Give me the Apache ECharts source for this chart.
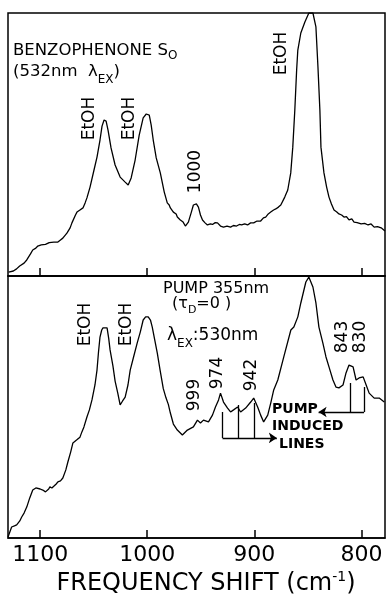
<!DOCTYPE html>
<html lang="en">
<head>
    <meta charset="UTF-8"/>
    <script src="https://cdn.jsdelivr.net/npm/echarts@6/dist/echarts.min.js"></script>
    <title>Benzophenone Raman</title>
    <style>
        html, body { margin: 0; padding: 0; background: #fff; }
        #chart { width: 387px; height: 594px; }
    </style>
</head>
<body>
<div id="chart"></div>
<script type="text/javascript">
    // ground state spectrum (top), shift in cm-1 and relative intensity
    var topShift = [1129.4,1128.4,1125,1122,1119.1,1115,1112.5,1109,1106.9,1104,
        1102.2,1099,1097.5,1095,1093.8,1091.5,1090,1087.2,1083.4,1081,
        1078.8,1075,1072,1070.3,1067,1065.6,1062.8,1060,1058,1056.3,
        1053.4,1049.7,1046.9,1044.1,1042.2,1040.3,1038.4,1036.6,1033.8,1030,
        1025.3,1020.6,1017.8,1015,1011.3,1007.5,1003.8,1000.9,998.1,996.3,
        994.4,991.6,987.8,984.1,981.3,979.5,978.4,975.6,973,971.9,
        969.1,966.5,964.4,961.6,958.8,956.9,954.1,952.2,950.3,948.4,
        946,943.8,941,939.1,936.5,934.4,931.6,928.8,925.5,922.2,
        919.5,916.6,914,911.9,909,906.3,903.5,900.6,897.5,894.1,
        891.5,889.4,887,884.7,882,880,877.5,875.3,871.6,868.8,
        866,864.1,862.2,860.5,859.4,856.6,852.8,849.1,845.3,842.5,
        840.6,838.8,837.8,835,832.5,830.3,828,825.6,823,821,
        818.5,816.3,814,811.6,809,806.9,804,800.3,797,793.8,
        791,788.1,785,781.6,778];
    var topSignal = [1.5,1.1,1.9,2.7,3.8,4.9,6.1,8.4,9.9,10.6,
        11.4,11.8,12.5,12,12.2,12.7,12.4,12.9,12.9,13.7,
        14.4,16.3,18.3,20.2,23.2,24.3,25.1,25.9,27.8,29.7,
        33.8,40.3,45.2,51.7,57,59.3,58.9,55.5,48.7,42.2,
        37.6,35.7,34.6,37.3,44.1,53.6,60.1,61.6,61.2,57.4,
        51.7,44.9,39.2,31.9,27.8,27,25.9,24.3,23.6,22.4,
        21.3,20.5,19,20.5,24.3,27,27.4,26.2,23.2,21.3,
        20.2,19.4,19.8,19.6,20.3,20.2,19,18.6,19,18.6,
        19.2,19,19.6,19.4,19.8,19.4,20.2,20.2,20.9,20.9,
        22.1,22.4,23.6,24.3,25.1,25.5,26.2,27,30,32.7,
        39.2,49,63.1,78.3,85.9,92.4,96.6,100,100,94.7,
        79.5,63.1,49,39.2,33.8,30,27.4,25.1,24.3,23.6,
        23.2,22.4,22.6,21.3,21.7,20.5,20.3,19.8,20,19.4,
        19.8,18.6,18.8,18.3,17.1];

    // pumped spectrum (bottom)
    var bottomShift = [1130,1126.6,1124,1121.9,1119,1117.2,1115,1112.5,1109.7,1106.9,
        1104,1102.2,1100,1097.5,1095,1093.8,1092,1090.9,1089,1087.2,
        1085,1083.4,1081,1078.8,1076,1074.1,1071.5,1069.4,1066,1062.8,
        1061,1059.1,1056.3,1054,1051.6,1048.8,1046.9,1045.5,1044.1,1042.5,
        1041.3,1039.5,1037.5,1036,1034.7,1032,1030,1027.5,1025.3,1023,
        1020.6,1018,1015.9,1013,1009.4,1006.5,1003.8,1001.5,999.1,997,
        995.3,993,990.6,988,985,982.5,980.3,978.4,975.6,971.9,
        967.2,962.5,956.9,953.1,950.3,947.5,942.8,939.1,936.3,933.4,
        931.6,928.8,925,922.2,919.4,915.6,912.8,908.1,903.4,900.6,
        896.9,894.1,891.3,887.5,884.7,881.9,878.1,872.5,865.9,863.1,
        859.4,856.6,851.9,849.1,845.3,842.5,839.7,836,833.1,830.3,
        826.6,823.8,821,817.2,814.4,811.6,807.8,805,802.2,798.4,
        795.6,792.8,788.1,783.4,778.7];
    var bottomSignal = [0.4,4.2,4.6,5,6.5,8,9.5,11.8,15.3,18.3,
        19.1,19.5,18.7,18.3,17.6,17.2,18.7,19.5,19.1,19.5,
        20.6,21.4,21.8,22.9,26,29,32.8,36.3,37.4,38.5,
        40.5,42.4,46.2,48.9,52.7,58.4,64.1,71,76.7,79.4,
        80.2,80.5,80.2,76.3,71.8,65.6,59.9,55.3,50.8,52.3,
        53.8,58.4,64.1,68.7,74.4,78.6,83.2,84.4,84.4,83.2,
        80.5,75.6,70.6,64.1,57,53.5,51,47.7,43.5,41.2,
        39.3,41.2,42.4,45,43.9,45,44.3,46.9,50,52.7,
        55.3,51.9,49.6,48.1,48.9,50,48.1,49.6,51.9,53.4,
        50,46.9,44.3,46.9,51.5,56.5,60.3,69.1,79.4,80.5,
        84.4,89.7,97.7,99.6,95.8,89.7,80.5,74.4,69.1,65.3,
        60.3,57.6,57.3,58.4,63,66,65.3,60.3,61.1,61.5,
        58.4,55.3,53.4,53.4,51.9];

    var tickValues = [800, 900, 1000, 1100];

    // "pump induced lines" brackets in the lower panel
    var leftLineShift = [929.7, 914.7, 899.7];
    var leftLineTop = [48.1, 50.8, 51.5];
    var leftLineBase = 38.2;
    var leftArrowTip = 879;
    var rightLineShift = [810.6, 797.5];
    var rightLineTop = [59.2, 57.6];
    var rightLineBase = 48.1;
    var rightArrowTip = 840;

    function zip(xs, ys) {
        var out = [];
        var n = Math.min(xs.length, ys.length);
        for (var i = 0; i < n; i++) {
            out.push([xs[i], ys[i]]);
        }
        return out;
    }

    var FONT = "'DejaVu Sans', sans-serif";

    var stems = [];
    leftLineShift.forEach(function (s, i) {
        stems.push({coords: [[s, leftLineTop[i]], [s, leftLineBase]]});
    });
    rightLineShift.forEach(function (s, i) {
        stems.push({coords: [[s, rightLineTop[i]], [s, rightLineBase]]});
    });
    var arrows = [
        {coords: [[leftLineShift[0], leftLineBase], [leftArrowTip, leftLineBase]]},
        {coords: [[rightLineShift[rightLineShift.length - 1], rightLineBase], [rightArrowTip, rightLineBase]]}
    ];

    function xAxisFor(idx, showLabel) {
        return {
            type: 'value',
            gridIndex: idx,
            min: 778,
            max: 1130,
            inverse: true,
            axisLine: {show: true, lineStyle: {color: '#000', width: 1.5}},
            axisTick: {
                show: true, inside: true, length: 8,
                customValues: tickValues,
                lineStyle: {color: '#000', width: 1.5}
            },
            axisLabel: {
                show: showLabel,
                customValues: tickValues,
                formatter: function (v) { return String(v); },
                color: '#000',
                fontFamily: FONT,
                fontSize: 22,
                margin: 6
            },
            splitLine: {show: false}
        };
    }

    function yAxisFor(idx) {
        return {type: 'value', gridIndex: idx, min: 0, max: 100, show: false};
    }

    function rotLabel(txt, x, y) {
        return {
            type: 'text', x: x, y: y, rotation: Math.PI / 2,
            style: {text: txt, font: '17px ' + FONT, fill: '#000', align: 'center', verticalAlign: 'middle'}
        };
    }

    var chart = echarts.init(document.getElementById('chart'));
    var option = {
        backgroundColor: '#fff',
        animation: false,
        grid: [
            {left: 8, top: 13, width: 377, height: 263, show: true, borderColor: '#000', borderWidth: 1.5},
            {left: 8, top: 276, width: 377, height: 262, show: true, borderColor: '#000', borderWidth: 1.5}
        ],
        xAxis: [xAxisFor(0, false), xAxisFor(1, true)],
        yAxis: [yAxisFor(0), yAxisFor(1)],
        series: [
            {
                type: 'line', xAxisIndex: 0, yAxisIndex: 0,
                data: zip(topShift, topSignal),
                showSymbol: false, smooth: false,
                lineStyle: {color: '#000', width: 1.3}
            },
            {
                type: 'line', xAxisIndex: 1, yAxisIndex: 1,
                data: zip(bottomShift, bottomSignal),
                showSymbol: false, smooth: false,
                lineStyle: {color: '#000', width: 1.3}
            },
            {
                type: 'lines', coordinateSystem: 'cartesian2d', xAxisIndex: 1, yAxisIndex: 1,
                data: stems, symbol: 'none',
                lineStyle: {color: '#000', width: 1.3, opacity: 1}
            },
            {
                type: 'lines', coordinateSystem: 'cartesian2d', xAxisIndex: 1, yAxisIndex: 1,
                data: arrows, symbol: ['none', 'arrow'], symbolSize: 8,
                lineStyle: {color: '#000', width: 1.3, opacity: 1}
            }
        ],
        graphic: [
            {
                type: 'text', x: 13, y: 51,
                style: {
                    text: '{m|BENZOPHENONE S}{s|O}',
                    verticalAlign: 'middle',
                    rich: {
                        m: {font: '16.5px ' + FONT, fill: '#000', lineHeight: 22, verticalAlign: 'middle'},
                        s: {font: '12px ' + FONT, fill: '#000', lineHeight: 22, verticalAlign: 'bottom'}
                    }
                }
            },
            {
                type: 'text', x: 13, y: 72,
                style: {
                    text: '{m|(532nm  λ}{s|EX}{m|)}',
                    verticalAlign: 'middle',
                    rich: {
                        m: {font: '16.5px ' + FONT, fill: '#000', lineHeight: 28, verticalAlign: 'middle'},
                        s: {font: '12px ' + FONT, fill: '#000', lineHeight: 28, verticalAlign: 'bottom'}
                    }
                }
            },
            rotLabel('EtOH', 89.5, 118.5),
            rotLabel('EtOH', 130, 118.5),
            rotLabel('1000', 196, 171.5),
            rotLabel('EtOH', 281.5, 53.5),
            rotLabel('EtOH', 86, 324.5),
            rotLabel('EtOH', 127, 324.5),
            rotLabel('999', 195, 395),
            rotLabel('974', 218, 373),
            rotLabel('942', 252, 375),
            rotLabel('843', 343, 337),
            rotLabel('830', 361, 337),
            {
                type: 'text', x: 163, y: 289,
                style: {text: 'PUMP 355nm', font: '16px ' + FONT, fill: '#000', verticalAlign: 'middle'}
            },
            {
                type: 'text', x: 172, y: 304,
                style: {
                    text: '{m|(τ}{s|D}{m|=0 )}',
                    verticalAlign: 'middle',
                    rich: {
                        m: {font: '16px ' + FONT, fill: '#000', lineHeight: 24, verticalAlign: 'middle'},
                        s: {font: '11px ' + FONT, fill: '#000', lineHeight: 24, verticalAlign: 'bottom'}
                    }
                }
            },
            {
                type: 'text', x: 167, y: 336,
                style: {
                    text: '{m|λ}{s|EX}{m|:530nm}',
                    verticalAlign: 'middle',
                    rich: {
                        m: {font: '17px ' + FONT, fill: '#000', lineHeight: 28, verticalAlign: 'middle'},
                        s: {font: '12px ' + FONT, fill: '#000', lineHeight: 28, verticalAlign: 'bottom'}
                    }
                }
            },
            {
                type: 'text', x: 272, y: 409,
                style: {text: 'PUMP', font: 'bold 14px ' + FONT, fill: '#000', verticalAlign: 'middle'}
            },
            {
                type: 'text', x: 272, y: 426,
                style: {text: 'INDUCED', font: 'bold 14px ' + FONT, fill: '#000', verticalAlign: 'middle'}
            },
            {
                type: 'text', x: 279, y: 444,
                style: {text: 'LINES', font: 'bold 14px ' + FONT, fill: '#000', verticalAlign: 'middle'}
            },
            {
                type: 'text', x: 206, y: 584,
                style: {
                    text: '{m|FREQUENCY SHIFT (cm}{p|-1}{m|)}',
                    align: 'center',
                    verticalAlign: 'middle',
                    rich: {
                        m: {font: '24px ' + FONT, fill: '#000', lineHeight: 28, verticalAlign: 'middle'},
                        p: {font: '14px ' + FONT, fill: '#000', lineHeight: 28, verticalAlign: 'top'}
                    }
                }
            }
        ]
    };
    chart.setOption(option);
</script>
</body>
</html>
